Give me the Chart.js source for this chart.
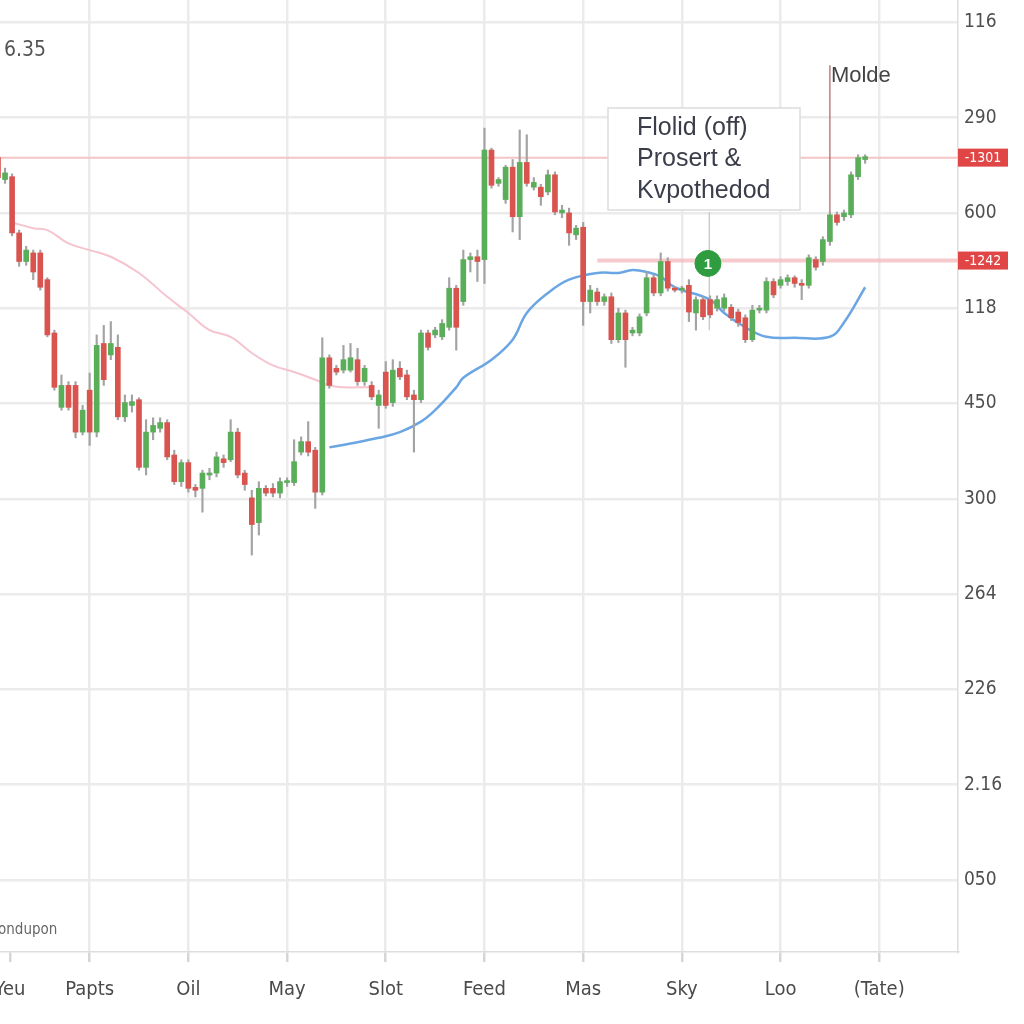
<!DOCTYPE html>
<html><head><meta charset="utf-8">
<script src="https://cdn.jsdelivr.net/npm/chart.js@4/dist/chart.umd.min.js"></script>
<style>html,body{margin:0;padding:0;background:#fff;overflow:hidden}</style>
</head><body>
<canvas id="c" width="1024" height="1024"></canvas>
<script>
// ---- data ----
const xLabels = ['Yeu','Papts','Oil','May','Slot','Feed','Mas','Sky','Loo','(Tate)'];
const xTickValues = [1.7, 13, 27, 41, 55, 69, 83, 97, 111, 125];
const yLabels = ['050','2.16','226','264','300','450','118','600','290','116'];
const yTickValues = [0,100,200,300,400,500,600,700,800,900];

const opens  = [758,735,738,679,649,658,658,630,574,496,519,519,470,514,470,563,551,559,486,498,504,433,470,474,480,446,418,438,412,411,425,427,442,441,470,427,401,375,411,411,406,417,417,449,460,451,407,548,537,535,535,546,523,519,498,533,501,537,530,509,504,574,572,570,580,621,607,651,654,651,766,731,714,748,696,753,727,727,722,740,700,700,677,685,607,617,607,612,567,595,574,574,595,632,616,649,621,619,624,595,609,609,600,600,601,596,590,567,598,598,628,624,628,632,626,624,651,649,670,698,696,698,738,756];
const highs  = [764,747,741,682,665,661,661,632,577,530,523,523,498,532,572,582,586,572,509,509,506,483,485,485,483,451,441,441,415,430,432,449,446,483,474,430,409,418,414,416,422,422,462,465,481,454,569,551,540,561,563,558,540,523,514,544,546,544,535,514,577,577,580,588,632,624,661,658,661,789,768,737,750,756,787,782,737,730,745,743,708,705,687,690,624,621,615,616,600,598,580,594,638,635,658,653,623,623,630,612,612,613,613,615,604,599,593,603,603,632,631,633,635,634,630,656,654,675,701,701,703,743,761,761];
const lows   = [732,731,676,644,645,630,619,570,514,493,493,464,467,456,465,519,546,483,481,491,430,425,462,470,441,415,413,407,402,386,420,423,433,439,422,409,341,362,403,402,401,413,414,446,445,390,404,516,530,532,533,519,519,504,474,495,497,525,504,449,501,556,569,567,577,556,603,638,628,626,726,728,710,680,672,728,724,708,719,698,695,666,672,582,595,603,603,563,564,538,571,571,592,613,613,618,617,616,586,577,588,590,597,597,587,581,564,565,595,595,611,621,624,622,609,621,640,645,666,687,692,695,735,752];
const closes = [737,742,679,649,661,638,622,572,517,519,496,470,493,470,561,525,563,486,501,502,433,470,477,480,444,418,438,411,409,427,427,444,438,470,425,415,373,411,406,406,418,419,439,460,449,407,548,519,533,546,548,523,537,507,509,498,535,528,507,504,574,559,577,584,621,580,651,654,649,766,729,735,748,696,753,731,732,717,740,701,703,679,684,607,619,607,612,567,595,567,577,591,632,616,649,621,619,621,596,609,591,593,609,611,590,585,567,598,600,628,614,630,632,626,624,653,643,672,698,690,700,740,758,759];

const pinkX = [2,5,7,10,13,16,20,24,27,30,33,36,39,42,45,47,49,51,53];
const pinkY = [690,684,682,668,661,654,637,612,595,577,570,553,540,533,525,519,517,517,517];
const blueX = [47,50,54,57,60,62,65,66,70,73,75,78,81,85,88,90,92,94,96,101,103,106,109,113,118,120,123];
const blueY = [454,458,464,470,481,493,517,527,546,567,595,616,630,637,637,640,638,633,622,609,595,580,570,569,570,585,622];

const levelValues = [758, 650];
const levelStarts = [0.28, 85];
const levelTags = ['-1301', '-1242'];
const markerX = 100.7, markerY = 647, markerText = '1';
const stemX = 100.9, stemTop = 701, stemBottom = 577;
const moldeX = 118, moldeTop = 855, moldeBottom = 698;
const noteLines = ['Flolid (off)', 'Prosert &', 'Kvpothedod'];
const cornerValue = '6.35';
const footNote = 'ondupon';
const moldeText = 'Molde';

// ---- chart ----
const X_MIN = 0.284, X_MAX = 136.17, Y_MIN = -75.5, Y_MAX = 923.4;
const GREEN = '#5aae5a', RED = '#d9534f';
const narrow = '"Liberation Sans Narrow","DejaVu Sans Condensed","Roboto Condensed",sans-serif';

const idx = opens.map((_, i) => i);
const bodyData = idx.map(i => ({x: i, y: [opens[i], closes[i]]}));
const wickData = idx.map(i => ({x: i, y: [lows[i], highs[i]]}));
const bodyColors = idx.map(i => closes[i] >= opens[i] ? GREEN : RED);

const annot = {
  id: 'annot',
  afterDatasetsDraw(chart) {
    const {ctx, chartArea: ca, scales: {x, y}} = chart;
    ctx.save();
    levelValues.forEach((lv, k) => {
      const py = y.getPixelForValue(lv);
      ctx.fillStyle = '#e04646';
      ctx.fillRect(ca.right, py - 9, 50, 18);
      ctx.fillStyle = '#fff';
      ctx.font = '14px ' + narrow;
      ctx.textAlign = 'center'; ctx.textBaseline = 'middle';
      ctx.fillText(levelTags[k], ca.right + 25, py + 1);
    });
    ctx.fillStyle = '#ffffff';
    ctx.strokeStyle = '#dcdcdc'; ctx.lineWidth = 1.5;
    ctx.fillRect(608, 108, 192, 102);
    ctx.strokeRect(608, 108, 192, 102);
    ctx.fillStyle = '#3b3d4a';
    ctx.font = '25px "Liberation Sans", Arial, sans-serif';
    ctx.textAlign = 'left'; ctx.textBaseline = 'middle';
    [128, 159, 191].forEach((ty, k) => ctx.fillText(noteLines[k], 637, ty));
    ctx.fillStyle = '#444';
    ctx.font = '22px "Liberation Sans", Arial, sans-serif';
    ctx.fillText(moldeText, x.getPixelForValue(moldeX) + 1, 76);
    ctx.fillStyle = '#fff';
    ctx.font = 'bold 15px "Liberation Sans", Arial, sans-serif';
    ctx.textAlign = 'center';
    ctx.fillText(markerText, x.getPixelForValue(markerX), y.getPixelForValue(markerY) + 1);
    ctx.fillStyle = '#555';
    ctx.textAlign = 'left';
    ctx.font = '21px ' + narrow;
    ctx.fillText(cornerValue, 4, 51);
    ctx.fillStyle = '#666';
    ctx.font = '15px ' + narrow;
    ctx.fillText(footNote, -2, 930);
    ctx.restore();
  }
};

new Chart(document.getElementById('c'), {
  type: 'bar',
  data: {
    datasets: [
      {type: 'line', data: [{x: levelStarts[0], y: levelValues[0]}, {x: X_MAX, y: levelValues[0]}],
       borderColor: '#f3c6c6', borderWidth: 2, pointRadius: 0, order: 9},
      {type: 'line', data: [{x: levelStarts[1], y: levelValues[1]}, {x: X_MAX, y: levelValues[1]}],
       borderColor: 'rgba(244,184,190,0.75)', borderWidth: 4, pointRadius: 0, order: 9},
      {type: 'line', data: pinkX.map((v,k)=>({x: v, y: pinkY[k]})),
       borderColor: '#f5c4cf', borderWidth: 2, pointRadius: 0, tension: 0.4, order: 8},
      {type: 'line', data: blueX.map((v,k)=>({x: v, y: blueY[k]})),
       borderColor: '#6ba6e4', borderWidth: 2.5, pointRadius: 0, tension: 0.4, order: 8},
      {type: 'line', data: [{x: stemX, y: stemTop}, {x: stemX, y: stemBottom}],
       borderColor: '#cccccc', borderWidth: 1, pointRadius: 0, order: 8},
      {type: 'line', data: [{x: moldeX, y: moldeTop}, {x: moldeX, y: moldeBottom}],
       borderColor: '#b06060', borderWidth: 1.2, pointRadius: 0, order: 8},
      {type: 'bar', data: wickData, backgroundColor: '#a3a3a3', barThickness: 1.5, grouped: false, order: 5},
      {type: 'bar', data: bodyData, backgroundColor: bodyColors, barThickness: 5, grouped: false, minBarLength: 2, order: 2},
      {type: 'line', data: [{x: markerX, y: markerY}], showLine: false, pointRadius: 13,
       pointBackgroundColor: '#2e9c3f', pointBorderColor: '#2e9c3f', pointBorderWidth: 1, order: 1}
    ]
  },
  options: {
    responsive: false, animation: false, devicePixelRatio: 1,
    layout: {padding: 0, autoPadding: false},
    plugins: {legend: {display: false}, tooltip: {enabled: false}},
    scales: {
      x: {
        type: 'linear', min: X_MIN, max: X_MAX, offset: false,
        afterBuildTicks: s => { s.ticks = xTickValues.map(v => ({value: v})); },
        afterFit: s => { s.height = 72; s.paddingLeft = 0; s.paddingRight = 0; },
        grid: {offset: false, color: ctx => ctx.index === 0 ? 'rgba(0,0,0,0)' : '#ebebeb', lineWidth: 2.5, drawTicks: true, tickLength: 10, tickColor: '#d6d6d6'},
        border: {color: '#dddddd', width: 1.5},
        ticks: {autoSkip: false, maxRotation: 0, padding: 16, color: '#4a4a4a',
          font: {family: narrow, size: 20},
          callback: (v, i) => xLabels[i]}
      },
      y: {
        type: 'linear', position: 'right', min: Y_MIN, max: Y_MAX,
        afterBuildTicks: s => { s.ticks = yTickValues.map(v => ({value: v})); },
        afterFit: s => { s.width = 66; s.paddingTop = 0; s.paddingBottom = 0; },
        grid: {color: '#ebebeb', lineWidth: 2.5, drawTicks: false},
        border: {color: '#dddddd', width: 1.5},
        ticks: {padding: 6, color: '#4f4f4f', font: {family: narrow, size: 19},
          callback: (v, i) => yLabels[i]}
      }
    }
  },
  plugins: [annot]
});
</script>
</body></html>
